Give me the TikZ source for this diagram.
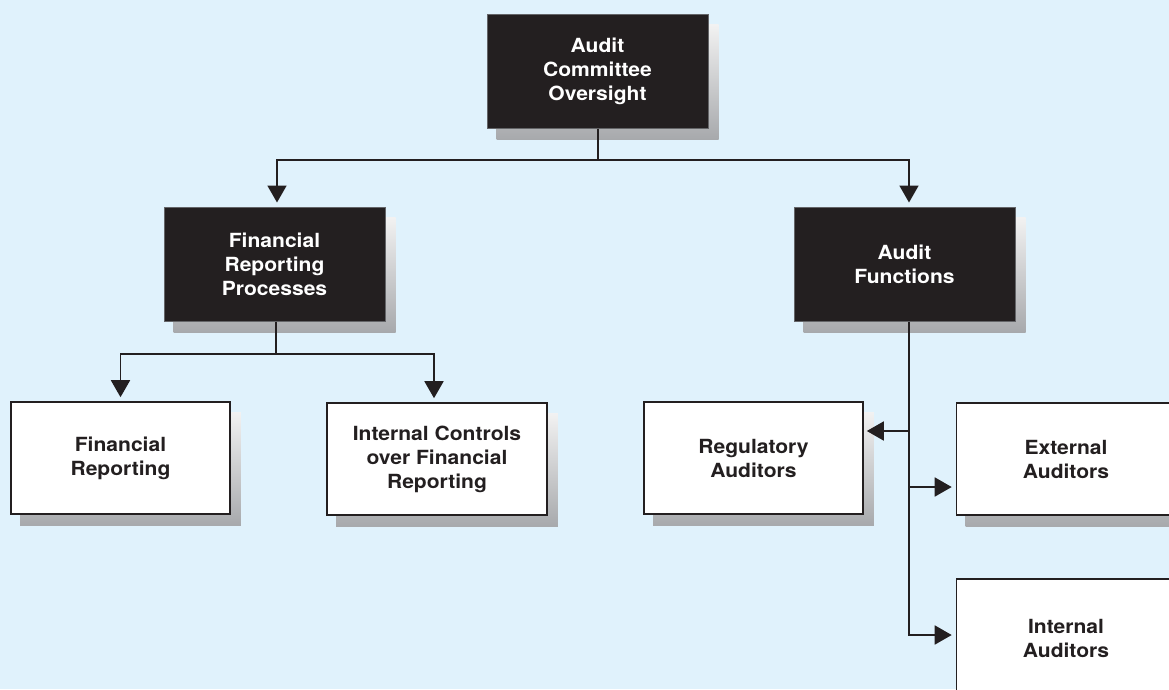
\documentclass[tikz,border=0pt]{standalone}
\usepackage{fontspec}
\setmainfont{TeX Gyre Heros}[FakeStretch=1.08]
\usetikzlibrary{arrows.meta,backgrounds}

\definecolor{paper}{RGB}{224,242,252}
\definecolor{ink}{RGB}{35,31,32}
\definecolor{rim}{RGB}{100,101,104}
\definecolor{shadowtop}{RGB}{242,242,242}
\definecolor{shadowbot}{RGB}{167,169,172}

\tikzset{
  box/.style={rectangle, inner sep=0pt, align=center,
    font=\fontsize{19.5}{24}\selectfont\bfseries},
  darkbox/.style={box, fill=ink, draw=rim, line width=1pt, text=white,
    minimum width=221pt, minimum height=114pt},
  lightbox/.style={box, fill=white, draw=ink, line width=1.6pt, text=ink,
    minimum width=219pt, minimum height=112pt},
  link/.style={draw=ink, line width=1.8pt},
  arrow/.style={link, -{Triangle[length=17pt,width=19pt]}, shorten >=4pt},
}

% drop shadow behind a named box, offset down and to the right
\newcommand{\dropshadow}[1]{%
  \begin{scope}[on background layer]
    \shade[top color=shadowtop, bottom color=shadowbot]
      ([shift={(10pt,-11pt)}]#1.north west) rectangle
      ([shift={(10pt,-11pt)}]#1.south east);
  \end{scope}}

\begin{document}
\begin{tikzpicture}[x=1pt, y=-1pt]
  \begin{scope}[on background layer]
    \fill[paper] (0,0) rectangle (1169,689);
  \end{scope}
  \useasboundingbox (0,0) rectangle (1169,689);

  % top level
  \node[darkbox] (acm) at (597.5,71) {Audit\\Committee\\Oversight};

  % second level
  \node[darkbox] (frp) at (274.5,264) {Financial\\Reporting\\Processes};
  \node[darkbox] (af) at (904.5,264) {Audit\\Functions};

  % third level, reporting side
  \node[lightbox] (fr) at (120.5,458) {Financial\\Reporting};
  \node[lightbox, minimum width=220pt] (icfr) at (437,459)
    {Internal Controls\\over Financial\\Reporting};

  % third level, audit side
  \node[lightbox] (ra) at (753.5,458) {Regulatory\\Auditors};
  \node[lightbox] (ea) at (1066,459) {External\\Auditors};
  \node[lightbox, minimum height=118pt] (ia) at (1066,638) {Internal\\Auditors};

  \foreach \n in {acm,frp,af,fr,icfr,ra,ea,ia} {\dropshadow{\n}}

  % connectors from the committee
  \coordinate (j1) at (598,160);
  \draw[link] (acm.south -| j1) -- (j1);
  \draw[arrow] (j1) -| ([xshift=2.5pt]frp.north);
  \draw[arrow] (j1) -| ([xshift=4.5pt]af.north);

  % connectors from the reporting processes
  \coordinate (j2) at (276,354);
  \draw[link] (frp.south -| j2) -- (j2);
  \draw[arrow] (j2) -| (fr.north);
  \draw[arrow] (j2) -| ([xshift=-3pt]icfr.north);

  % connectors from the audit functions
  \coordinate (b1) at (909,431);
  \coordinate (b2) at (909,487);
  \draw[arrow] (af.south -| b1) |- ([yshift=3pt]ia.west);
  \draw[arrow, shorten >=3pt] (b1) -- (b1 -| ra.east);
  \draw[arrow] (b2) -- (b2 -| ea.west);
\end{tikzpicture}
\end{document}
